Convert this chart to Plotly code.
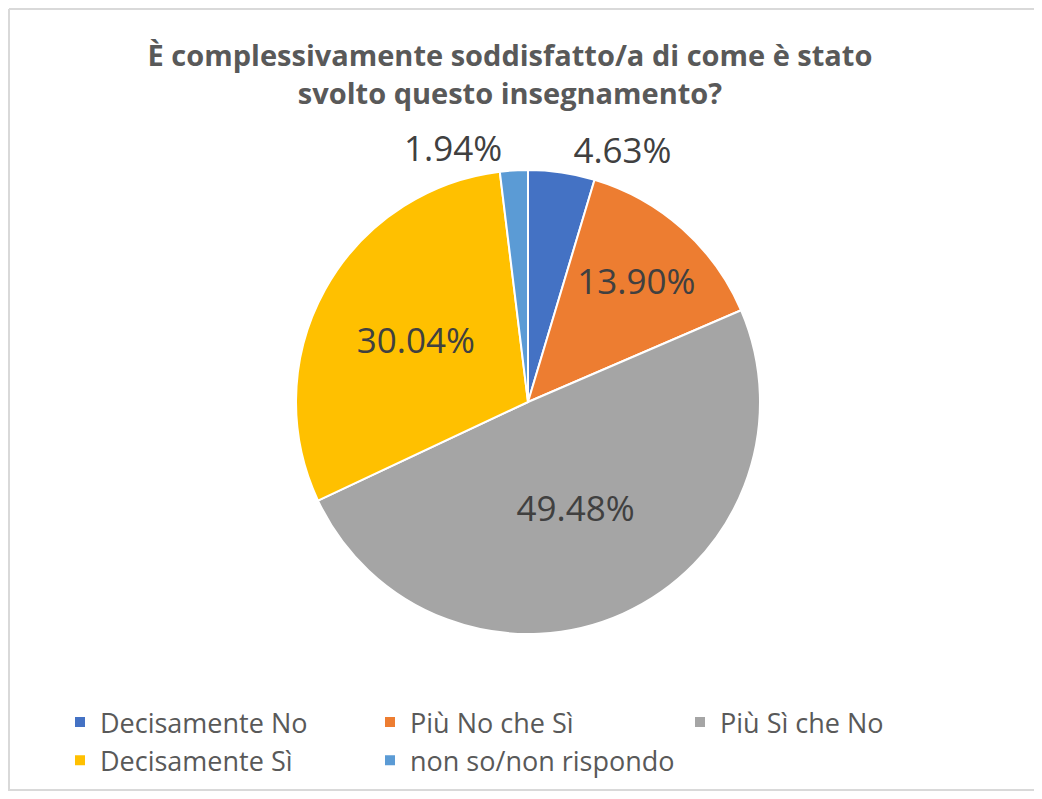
import plotly.graph_objects as go

# survey answers, clockwise from 12 o'clock
categories = ["Decisamente No", "Più No che Sì", "Più Sì che No",
              "Decisamente Sì", "non so/non rispondo"]
percentages = [4.63, 13.90, 49.48, 30.04, 1.94]
text_labels = ["4.63%", "13.90%", "49.48%", "30.04%", "1.94%"]

COLORS = ["#4472C4", "#ED7D31", "#A5A5A5", "#FFC000", "#5B9BD5"]
TITLE = "È complessivamente soddisfatto/a di come è stato<br>svolto questo insegnamento?"
FONT = "Open Sans"

# page body has an 8px margin, so the figure is a bit smaller than the window
PAD = 8
W, H = 1042 - 2 * PAD, 799 - 2 * PAD


def px(x):
    return (x - PAD) / W


def py(y):
    return 1 - (y - PAD) / H


# pie placement in window pixels
cx, cy, r = 528, 402, 232

fig = go.Figure()
fig.add_trace(go.Pie(
    labels=categories,
    values=percentages,
    text=text_labels,
    textinfo="text",
    sort=False,
    direction="clockwise",
    rotation=0,
    marker=dict(colors=COLORS, line=dict(color="white", width=2)),
    textposition=["outside", "inside", "inside", "inside", "outside"],
    insidetextorientation="horizontal",
    textfont=dict(family=FONT, size=35, color="#404040"),
    outsidetextfont=dict(family=FONT, size=35, color="#404040"),
    domain=dict(x=[px(cx - r), px(cx + r)], y=[py(cy + r), py(cy - r)]),
    hoverinfo="label+percent",
))

# light frame: left, top and bottom edges (right edge runs off the picture)
frame = dict(type="line", xref="paper", yref="paper",
             line=dict(color="#D9D9D9", width=2), layer="below")
fig.add_shape(x0=1 / W, x1=1 / W, y0=0, y1=1 - 1 / H, **frame)
fig.add_shape(x0=1 / W, x1=1, y0=1 - 1 / H, y1=1 - 1 / H, **frame)
fig.add_shape(x0=1 / W, x1=1, y0=1 / H, y1=1 / H, **frame)

fig.update_layout(
    width=W, height=H,
    margin=dict(l=0, r=0, t=0, b=0),
    paper_bgcolor="white",
    plot_bgcolor="white",
    title=dict(text="<b>" + TITLE + "</b>", x=px(510), xanchor="center",
               y=py(66), yanchor="top", yref="container",
               font=dict(family=FONT, size=29, color="#595959")),
    legend=dict(orientation="h", x=px(60), xanchor="left",
                y=py(698), yanchor="top",
                entrywidth=265, entrywidthmode="pixels",
                font=dict(family=FONT, size=27, color="#595959"),
                traceorder="normal"),
    showlegend=True,
)

fig.write_html("out.html")
